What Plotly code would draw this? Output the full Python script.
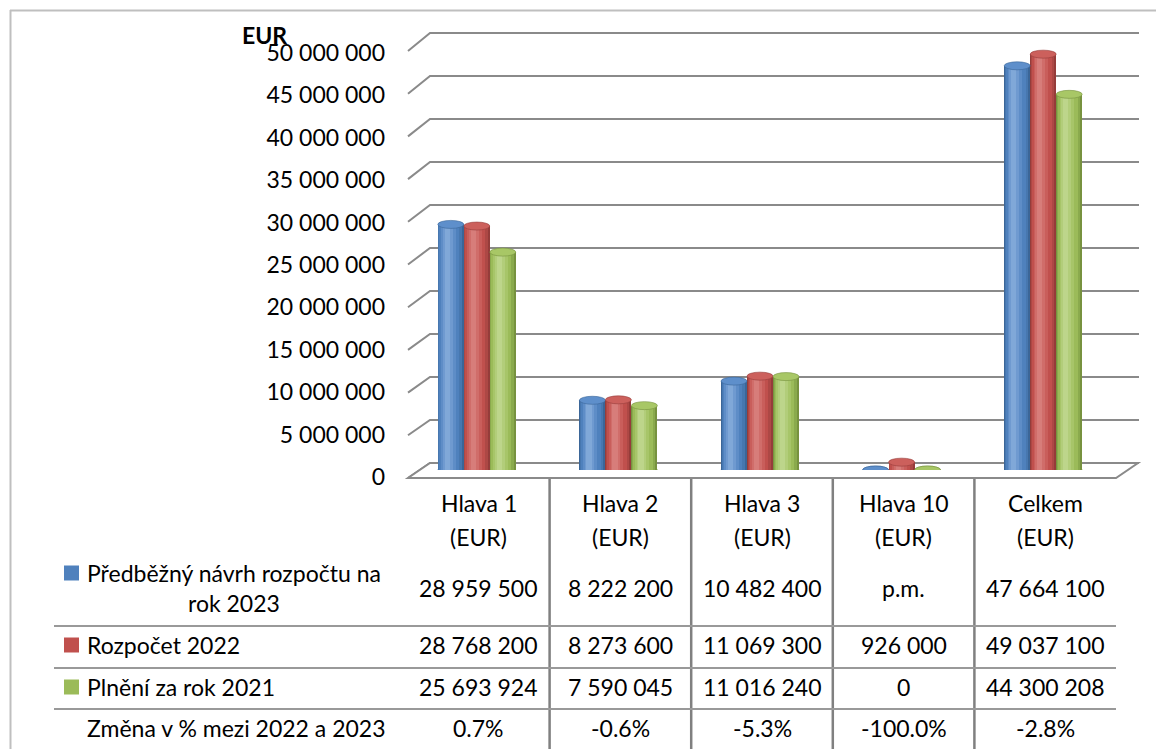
import plotly.graph_objects as go

# ---------------- data ----------------
categories = ["Hlava 1", "Hlava 2", "Hlava 3", "Hlava 10", "Celkem"]
category_unit = "(EUR)"
series_names = ["Předběžný návrh rozpočtu na<br>rok 2023", "Rozpočet 2022", "Plnění za rok 2021"]
pred_2023 = [28959500, 8222200, 10482400, None, 47664100]
budget_2022 = [28768200, 8273600, 11069300, 926000, 49037100]
actual_2021 = [25693924, 7590045, 11016240, 0, 44300208]
change_label = "Změna v % mezi 2022 a 2023"
change_pct = [0.7, -0.6, -5.3, -100.0, -2.8]
pm_label = "p.m."
y_ticks = [0, 5000000, 10000000, 15000000, 20000000, 25000000,
           30000000, 35000000, 40000000, 45000000, 50000000]
y_title = "EUR"

series_values = [pred_2023, budget_2022, actual_2021]
# shading ramp (edge -> highlight) and top face, per series
palettes = [
    (["#3B6698", "#4777AF", "#4F81BD", "#5E8DC7", "#6F9AD0", "#80A8D8"], "#5E8FCB"),
    (["#953C3A", "#AD4845", "#C0504D", "#C95E5B", "#D06D6A", "#D77D7A"], "#CC605C"),
    (["#77923F", "#8AAA4D", "#9BBB59", "#A7C569", "#B2CD7A", "#BDD58B"], "#A8C766"),
]

# ---------------- geometry ----------------
W, H = 1156, 749
ML, MR, MT, MB = 408, 40, 46, 279
PW, PH = W - ML - MR, H - MT - MB
FONT = "Lato, 'Liberation Sans', Arial, sans-serif"
FS = 23
GRID = "#8A8A8A"


def px(x):
    return (x - ML) / PW


def py(y):
    return (H - MB - y) / PH


def fmt(v):
    return f"{v:,}".replace(",", " ")


fig = go.Figure()

bw = 26 / 141.6
shift = -2 / 141.6
# (width fraction, centre offset fraction) of the shading strips
layers = [(1.0, 0.0), (0.9, -0.03), (0.76, -0.06), (0.56, -0.09), (0.38, -0.11), (0.2, -0.13)]
shapes = []

# ---------------- 3D-like grid (back wall + left wall diagonals) ----------------
for v in y_ticks:
    m = v / 1e6
    y_front = 478 - 8.54 * m
    y_back = 463 - 8.6 * m
    shapes.append(dict(type="path", xref="paper", yref="paper",
                       path=(f"M {px(408)},{py(y_front)} L {px(430)},{py(y_back)} "
                             f"L {px(1139)},{py(y_back)}"),
                       line=dict(color=GRID, width=2), layer="below"))
# floor
shapes.append(dict(type="path", xref="paper", yref="paper",
                   path=(f"M {px(408)},{py(478)} L {px(1116)},{py(478)} "
                         f"L {px(1138)},{py(463)} L {px(430)},{py(463)} Z"),
                   line=dict(color=GRID, width=2), fillcolor="white", layer="below"))

# ---------------- cylinders ----------------
for s, (vals, (ramp, top)) in enumerate(zip(series_values, palettes)):
    ys = [v if v is not None else 0 for v in vals]
    centers = [i + shift + (s - 1) * bw for i in range(len(categories))]
    for (wf, off), col in zip(layers, ramp):
        fig.add_trace(go.Bar(
            x=[c + off * bw for c in centers], y=ys, width=wf * bw,
            marker=dict(color=col, line=dict(width=0)),
            showlegend=False, hoverinfo="skip"))
    for c, v in zip(centers, ys):
        shapes.append(dict(type="circle", xref="x", yref="y", ysizemode="pixel", yanchor=0,
                           x0=c - bw / 2, x1=c + bw / 2, y0=-4, y1=4,
                           fillcolor=ramp[2], line=dict(color=ramp[0], width=0.5), layer="below"))
        shapes.append(dict(type="circle", xref="x", yref="y", ysizemode="pixel", yanchor=v,
                           x0=c - bw / 2, x1=c + bw / 2, y0=-4, y1=4,
                           fillcolor=top, line=dict(color=ramp[0], width=0.6), layer="above"))

# ---------------- outer border ----------------
shapes.append(dict(type="line", xref="paper", yref="paper", x0=px(10), x1=px(1160),
                   y0=py(10.5), y1=py(10.5), line=dict(color="#BFBFBF", width=2)))
shapes.append(dict(type="line", xref="paper", yref="paper", x0=px(10.5), x1=px(10.5),
                   y0=py(10), y1=py(760), line=dict(color="#BFBFBF", width=2)))

# ---------------- data table ----------------
for i in range(len(categories) - 1):
    shapes.append(dict(type="line", xref="x", yref="paper", x0=i + 0.5, x1=i + 0.5,
                       y0=py(479), y1=py(760), line=dict(color="#808080", width=2.5)))
for yl in [626, 668, 709]:
    shapes.append(dict(type="line", xref="paper", yref="paper", x0=px(54), x1=px(1116),
                       y0=py(yl), y1=py(yl), line=dict(color="#999999", width=2)))
row_y = [588, 645, 687]
key_y = [573, 645, 687]
for (ramp, _), ky in zip(palettes, key_y):
    shapes.append(dict(type="rect", xref="paper", yref="paper", x0=px(64), x1=px(79),
                       y0=py(ky - 7.5), y1=py(ky + 7.5), fillcolor=ramp[2], line=dict(width=0)))

annotations = []


def ann(text, x, y, xref="paper", xanchor="center", align="center", bold=False):
    annotations.append(dict(text=f"<b>{text}</b>" if bold else text, x=x, y=py(y),
                            xref=xref, yref="paper", xanchor=xanchor, yanchor="middle",
                            align=align, showarrow=False,
                            font=dict(family=FONT, size=FS, color="black")))


for i, cat in enumerate(categories):
    ann(cat, i, 503, xref="x")
    ann(category_unit, i, 537, xref="x")

for name, ry in zip(series_names, row_y):
    ann(name, px(85), ry, xanchor="left", align="center")
ann(change_label, px(85), 728, xanchor="left", align="left")

for vals, ry in zip(series_values, row_y):
    for i, v in enumerate(vals):
        ann(pm_label if v is None else fmt(v), i, ry, xref="x")
for i, p in enumerate(change_pct):
    ann(f"{p:.1f}%", i, 728, xref="x")

ann(y_title, px(264), 35, bold=True)

fig.update_layout(
    width=W, height=H,
    margin=dict(l=ML, r=MR, t=MT, b=MB, pad=0),
    paper_bgcolor="white", plot_bgcolor="rgba(0,0,0,0)",
    barmode="overlay", bargap=0,
    showlegend=False,
    shapes=shapes, annotations=annotations,
    font=dict(family=FONT, size=FS, color="black"),
    xaxis=dict(range=[-0.5, 4.5], showticklabels=False, showgrid=False,
               zeroline=False, showline=False, fixedrange=True),
    yaxis=dict(range=[0, 50000000], tickmode="array", tickvals=y_ticks,
               ticktext=[fmt(v) for v in y_ticks], showgrid=False, zeroline=False,
               showline=False, ticks="", ticklabelstandoff=22, ticklabelshift=7,
               tickfont=dict(family=FONT, size=FS, color="black"), fixedrange=True),
)

fig.write_html("out.html", config={"displayModeBar": False},
               post_script="document.body.style.margin='0';")
